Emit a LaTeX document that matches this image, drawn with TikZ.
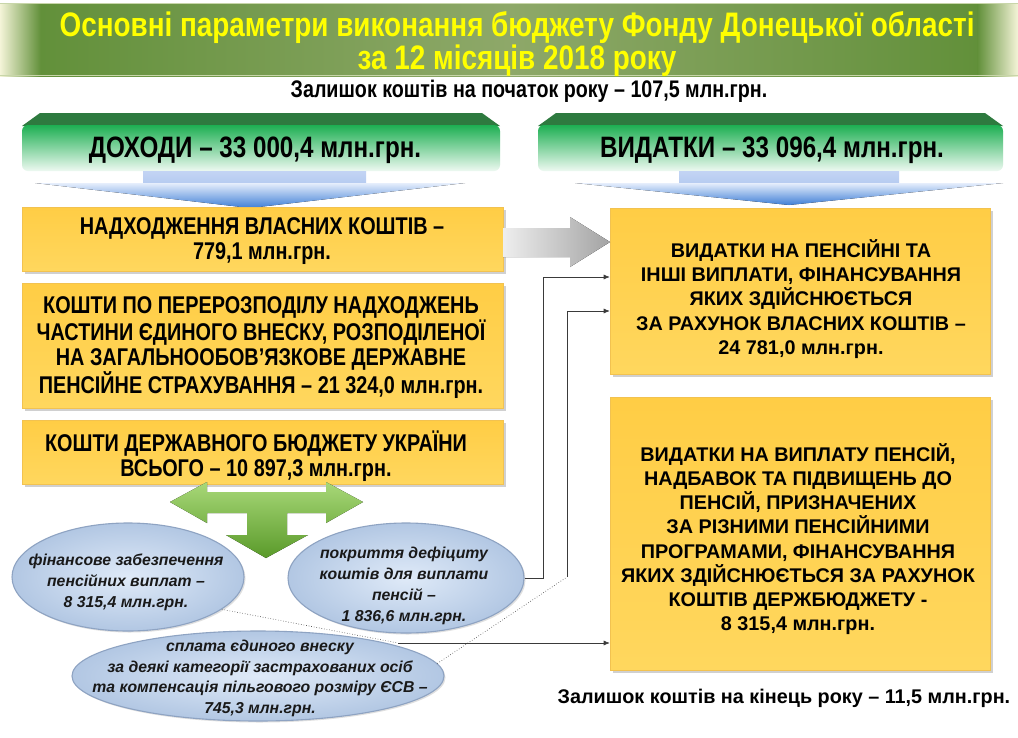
\documentclass[tikz,border=0pt]{standalone}
\usepackage{fontspec}
\setmainfont{Liberation Sans}
\newfontfamily\nar[FakeStretch=0.82]{Liberation Sans}
\usetikzlibrary{shapes.geometric,shadows,arrows.meta,calc}
\definecolor{banEdge}{HTML}{F4F4D8}
\definecolor{banMain}{HTML}{62903A}
\definecolor{banMid}{HTML}{8EA869}
\definecolor{titleY}{HTML}{FFFF00}
\definecolor{yA}{HTML}{FFCD45}
\definecolor{yB}{HTML}{FFE68C}
\definecolor{yC}{HTML}{FFD75E}
\definecolor{boxline}{HTML}{F2C250}
\definecolor{gTop}{HTML}{1DAF52}
\definecolor{gBot}{HTML}{EEF9F1}
\definecolor{bevel}{HTML}{2E7A3F}
\definecolor{bLight}{HTML}{E6EEFC}
\definecolor{bStem}{HTML}{C3D4F4}
\definecolor{bDark}{HTML}{3F7FD6}
\definecolor{grL}{HTML}{EEEEEE}
\definecolor{grR}{HTML}{A3A3A3}
\definecolor{arT}{HTML}{A8D878}
\definecolor{arB}{HTML}{5A9A2A}
\definecolor{eIn}{HTML}{DFEAF8}
\definecolor{eOut}{HTML}{B2C7E3}
\definecolor{eRim}{HTML}{8EA3C2}
\definecolor{conncol}{HTML}{3A3A3A}
\begin{document}
\begin{tikzpicture}[x=1pt,y=-1pt,
  ybox/.style={draw=boxline,line width=0.6pt,top color=yA,middle color=yB,bottom color=yC,
    inner sep=0pt,drop shadow={shadow xshift=2.5pt,shadow yshift=-2.5pt,opacity=0.3,fill=black!60}},
  hface/.style={top color=gTop,bottom color=gBot,rounded corners=6pt,inner sep=0pt},
  ell/.style={ellipse,draw=eRim,line width=1.1pt,inner color=eIn,outer color=eOut,inner sep=0pt,
    drop shadow={shadow xshift=1.5pt,shadow yshift=-1.5pt,opacity=0.25,fill=black!50}},
  ltxt/.style={align=center,font=\nar\bfseries\fontsize{24.2}{25}\selectfont,inner sep=0pt},
  rtxt/.style={align=center,font=\bfseries\fontsize{19.8}{24.2}\selectfont,inner sep=0pt},
  etxt/.style={align=center,font=\bfseries\itshape\fontsize{15.8}{20.8}\selectfont,inner sep=0pt,text=black!90},
  conn/.style={draw=conncol,line width=0.6pt},
  dconn/.style={draw=conncol,line width=0.6pt,dotted},
  tip/.style={-{Latex[length=6pt,width=5pt]}}
]
\useasboundingbox[fill=white] (0,0) rectangle (1018,737);

% ---- title banner
\fill[left color=banMain,right color=banMain,middle color=banMid] (40,3) rectangle (978,76);
\fill[left color=banEdge,right color=banMain] (0,3) rectangle (40.5,76);
\fill[left color=banMain,right color=banEdge] (977.5,3) rectangle (1018,76);
\draw[banEdge!70!banMain,line width=1.2pt] (0,3.5) -- (1018,3.5);
\draw[banEdge!70!banMain,line width=1.2pt] (0,75.5) -- (1018,75.5);
\node[align=center,text=titleY,inner sep=0pt,font=\nar\bfseries\fontsize{34}{31}\selectfont] (title) at (517,44)
  {Основні параметри виконання бюджету Фонду Донецької області\\за 12 місяців 2018 року};

\node[inner sep=0pt,font=\nar\bfseries\fontsize{24}{26}\selectfont] (start) at (529,91)
  {Залишок коштів на початок року – 107,5 млн.грн.};

% ---- header bars
\fill[bevel] (22,126) -- (40,113) -- (482,113) -- (500,126) -- cycle;
\node[hface,minimum width=478pt,minimum height=46pt] (hl) at (261,148) {};
\node[inner sep=0pt,font=\nar\bfseries\fontsize{29.5}{32}\selectfont] (hlt) at (255,150)
  {ДОХОДИ – 33 000,4 млн.грн.};
\fill[bevel] (538,126) -- (556,113) -- (985,113) -- (1003,126) -- cycle;
\node[hface,minimum width=465pt,minimum height=46pt] (hr) at (770.5,148) {};
\node[inner sep=0pt,font=\nar\bfseries\fontsize{29.5}{32}\selectfont] (hrt) at (772,150)
  {ВИДАТКИ – 33 096,4 млн.грн.};

% ---- blue down arrows
\fill[top color=bStem,bottom color=bStem!90!bDark] (143,171) rectangle (366,183);
\fill[top color=bLight,bottom color=bDark] (35,183) -- (465,183) -- (250,208) -- cycle;
\fill[top color=bStem,bottom color=bStem!90!bDark] (679,171) rectangle (899,183);
\fill[top color=bLight,bottom color=bDark] (575,183) -- (1003,183) -- (789,205) -- cycle;

% ---- left boxes
\node[ybox,minimum width=481pt,minimum height=64pt] (l1) at (262.5,239) {};
\node[ltxt] (l1t) at (262,241.5) {НАДХОДЖЕННЯ ВЛАСНИХ КОШТІВ –\\779,1 млн.грн.};
\node[ybox,minimum width=481pt,minimum height=125pt] (l2) at (262.5,345.5) {};
\node[ltxt] (l2t) at (261,347.5) {КОШТИ ПО ПЕРЕРОЗПОДІЛУ НАДХОДЖЕНЬ\\ЧАСТИНИ ЄДИНОГО ВНЕСКУ, РОЗПОДІЛЕНОЇ\\НА ЗАГАЛЬНООБОВ’ЯЗКОВЕ ДЕРЖАВНЕ\\ПЕНСІЙНЕ СТРАХУВАННЯ – 21 324,0 млн.грн.};
\node[ybox,minimum width=481pt,minimum height=64pt] (l3) at (262.5,452) {};
\node[ltxt] (l3t) at (256,456.5) {КОШТИ ДЕРЖАВНОГО БЮДЖЕТУ УКРАЇНИ\\ВСЬОГО – 10 897,3 млн.грн.};

% ---- right boxes
\node[ybox,minimum width=380pt,minimum height=166pt] (r1) at (800,291) {};
\node[rtxt] (r1t) at (801,299) {ВИДАТКИ НА ПЕНСІЙНІ ТА\\ІНШІ ВИПЛАТИ, ФІНАНСУВАННЯ\\ЯКИХ ЗДІЙСНЮЄТЬСЯ\\ЗА РАХУНОК ВЛАСНИХ КОШТІВ –\\24 781,0 млн.грн.};
\node[ybox,minimum width=380pt,minimum height=273pt] (r2) at (800,533.5) {};
\node[rtxt] (r2t) at (798,539) {ВИДАТКИ НА ВИПЛАТУ ПЕНСІЙ,\\НАДБАВОК ТА ПІДВИЩЕНЬ ДО\\ПЕНСІЙ, ПРИЗНАЧЕНИХ\\ЗА РІЗНИМИ ПЕНСІЙНИМИ\\ПРОГРАМАМИ, ФІНАНСУВАННЯ\\ЯКИХ ЗДІЙСНЮЄТЬСЯ ЗА РАХУНОК\\КОШТІВ ДЕРЖБЮДЖЕТУ -\\8 315,4 млн.грн.};

% ---- grey arrow
\fill[left color=grL,right color=grR] (503,228) -- (570,228) -- (570,217) -- (610,242) -- (570,267) -- (570,257) -- (503,257) -- cycle;

% ---- green T arrow
\fill[top color=arT,bottom color=arB] (170,502) -- (207,482) -- (207,492) -- (326,492) -- (326,482) -- (363,502)
  -- (326,523) -- (326,513) -- (287,513) -- (287,535) -- (308,535) -- (266,558) -- (226,535) -- (247,535)
  -- (247,513) -- (207,513) -- (207,523) -- cycle;

% ---- ellipses
\node[ell,minimum width=232pt,minimum height=108pt] (e1) at (128,577) {};
\node[etxt] (e1t) at (126,582.5) {фінансове забезпечення\\пенсійних виплат –\\8 315,4 млн.грн.};
\node[ell,minimum width=236pt,minimum height=110pt] (e2) at (406,578) {};
\node[etxt] (e2t) at (404,586) {покриття дефіциту\\коштів для виплати\\пенсій –\\1 836,6 млн.грн.};
\node[ell,minimum width=372pt,minimum height=90pt] (e3) at (258,676) {};
\node[etxt] (e3t) at (260,678.5) {сплата єдиного внеску\\за деякі категорії застрахованих осіб\\та компенсація пільгового розміру ЄСВ –\\745,3 млн.грн.};

% ---- connectors
\coordinate (k1) at (543,277);
\draw[conn,tip] (e2.east) -| (k1) -- (k1 -| r1.west);
\coordinate (k2) at (567,577);
\coordinate (k2b) at (567,311);
\draw[dconn] (e3.4) -- (k2);
\draw[conn,tip] (k2) -- (k2b) -- (k2b -| r1.west);
\coordinate (k3) at (398,643);
\draw[dconn] (e1.-19) -- (k3);
\draw[conn,tip] (k3) -- (k3 -| r2.west);

\node[inner sep=0pt,font=\bfseries\fontsize{19.8}{22}\selectfont] (endbal) at (784,698)
  {Залишок коштів на кінець року – 11,5 млн.грн.};
\end{tikzpicture}
\end{document}
